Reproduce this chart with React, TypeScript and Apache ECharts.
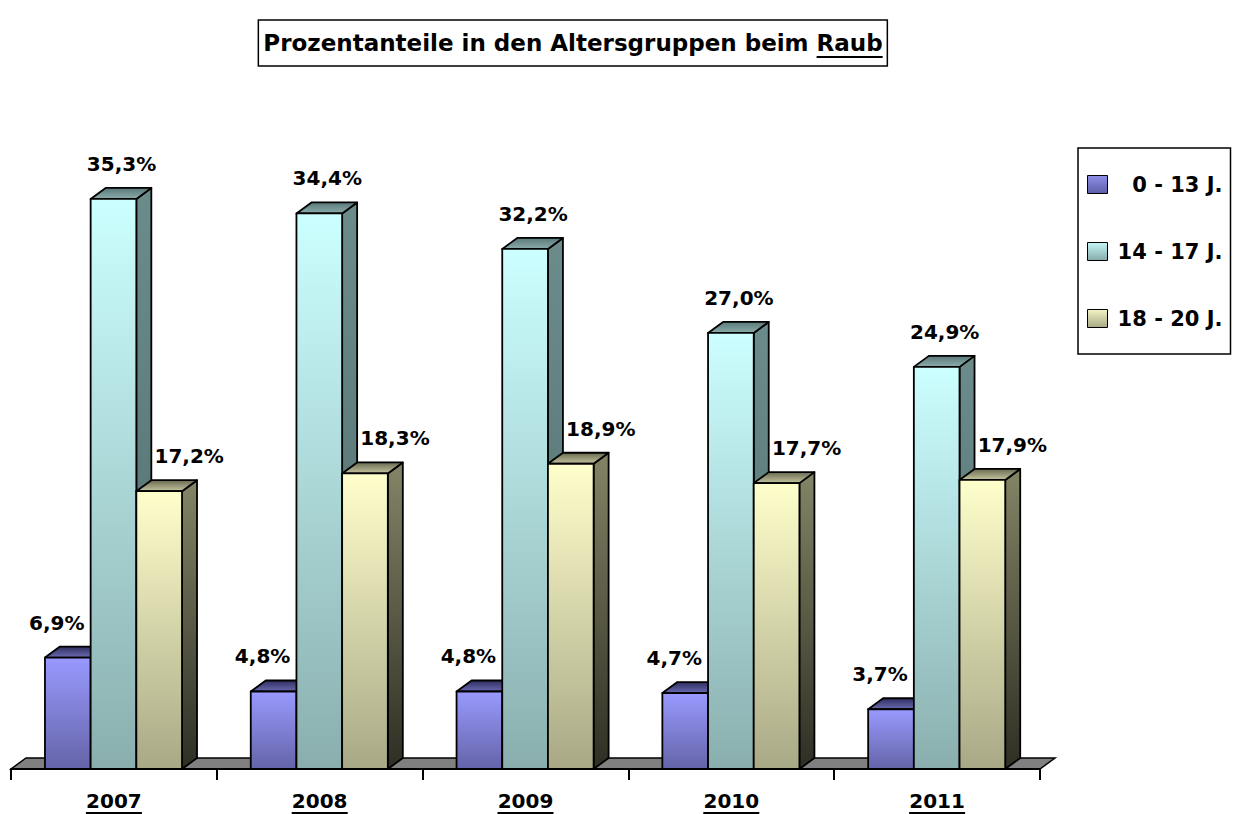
import React, { useEffect, useRef } from 'react';
import * as echarts from 'echarts';

const years = ['2007', '2008', '2009', '2010', '2011'];
const seriesNames = ['0 - 13 J.', '14 - 17 J.', '18 - 20 J.'];
const age0to13 = [6.9, 4.8, 4.8, 4.7, 3.7];
const age14to17 = [35.3, 34.4, 32.2, 27.0, 24.9];
const age18to20 = [17.2, 18.3, 18.9, 17.7, 17.9];
const titleMain = 'Prozentanteile in den Altersgruppen beim ';
const titleUnderlined = 'Raub';

const FONT = '"DejaVu Sans", "Liberation Sans", Arial, sans-serif';
const BAR_FRAC = 0.222;
const GROUP_OFFSET = 0.165;
const DX = 15;
const DY = 11;
const LABEL_DX = [-11, 8, 30];
const LABEL_DY = 35;

const palettes = [
  { front: ['#9999FF', '#6464A8'], top: ['#2E2E60', '#6A6AB0'], side: ['#40407A', '#262650'], legend: ['#8E8EEA', '#5E5EA6'] },
  { front: ['#CCFFFF', '#8AAEAE'], top: ['#5A7878', '#8CACAC'], side: ['#6C8C8C', '#4E6A6A'], legend: ['#C4F6F6', '#86AAAA'] },
  { front: ['#FFFFCC', '#A8A886'], top: ['#6A6A50', '#C4C4A0'], side: ['#848466', '#2E2E24'], legend: ['#F4F4C4', '#A8A886'] },
];

const grad = (c: string[]) =>
  new echarts.graphic.LinearGradient(0, 0, 0, 1, [
    { offset: 0, color: c[0] },
    { offset: 1, color: c[1] },
  ]);

const fmt = (v: number) => v.toFixed(1).replace('.', ',') + '%';

function makeRender(si: number) {
  return (params: any, api: any) => {
    const cat = api.value(0);
    const val = api.value(1);
    const base = api.coord([cat, 0]);
    const topP = api.coord([cat, val]);
    const band = api.size([1, 0])[0];
    const bw = band * BAR_FRAC;
    const x0 = base[0] - band / 2 + band * GROUP_OFFSET + si * bw;
    const x1 = x0 + bw;
    const yb = base[1];
    const yt = topP[1];
    const p = palettes[si];
    const stroke = { stroke: '#000', lineWidth: 1.8, lineJoin: 'round' };
    const children: any[] = [
      {
        type: 'polygon',
        shape: { points: [[x1, yt], [x1 + DX, yt - DY], [x1 + DX, yb - DY], [x1, yb]] },
        style: { fill: grad(p.side), ...stroke },
      },
      {
        type: 'polygon',
        shape: { points: [[x0, yt], [x0 + DX, yt - DY], [x1 + DX, yt - DY], [x1, yt]] },
        style: { fill: grad(p.top), ...stroke },
      },
      {
        type: 'rect',
        shape: { x: x0, y: yt, width: bw, height: yb - yt },
        style: { fill: grad(p.front), ...stroke },
      },
      {
        type: 'text',
        x: x0 + bw / 2 + LABEL_DX[si],
        y: yt - LABEL_DY,
        style: {
          text: fmt(val),
          fill: '#000',
          fontSize: 20,
          fontWeight: 'bold',
          fontFamily: FONT,
          align: 'center',
          verticalAlign: 'middle',
          textAlign: 'center',
          textVerticalAlign: 'middle',
        },
      },
    ];
    if (si === 0) {
      children.push({
        type: 'line',
        shape: { x1: base[0] - 28, y1: yb + 44, x2: base[0] + 28, y2: yb + 44 },
        style: { stroke: '#000', lineWidth: 2 },
      });
    }
    return { type: 'group', children };
  };
}

function floorRender(params: any, api: any) {
  const cs = params.coordSys;
  const yb = cs.y + cs.height;
  const xl = cs.x;
  const xr = cs.x + cs.width;
  return {
    type: 'polygon',
    shape: { points: [[xl, yb], [xr, yb], [xr + DX, yb - DY], [xl + DX, yb - DY]] },
    style: { fill: '#808080', stroke: '#000', lineWidth: 1.5 },
  };
}

export default function App() {
  const ref = useRef<HTMLDivElement>(null);
  useEffect(() => {
    document.body.style.margin = '0';
    if (!ref.current) return;
    const chart = echarts.init(ref.current, undefined, { renderer: 'svg' });

    const titleFontSize = 23;
    const canvas = document.createElement('canvas');
    const ctx = canvas.getContext('2d')!;
    ctx.font = `bold ${titleFontSize}px ${FONT}`;
    const fullW = ctx.measureText(titleMain + titleUnderlined).width;
    const rW = ctx.measureText(titleUnderlined).width;
    const boxL = 258;
    const boxW = 630;
    const hpad = Math.max(4, (boxW - fullW) / 2);
    const textL = boxL + hpad;

    const allSeries = [age0to13, age14to17, age18to20];

    chart.setOption({
      animation: false,
      backgroundColor: '#fff',
      title: {
        text: titleMain + titleUnderlined,
        left: boxL,
        top: 20,
        padding: [10, hpad],
        borderColor: '#000',
        borderWidth: 1.5,
        backgroundColor: '#fff',
        textStyle: {
          fontSize: titleFontSize,
          fontWeight: 'bold',
          fontFamily: FONT,
          color: '#000',
          lineHeight: 26,
        },
      },
      legend: {
        orient: 'vertical',
        left: 1078,
        top: 148,
        padding: [26, 8, 25, 9],
        itemGap: 46,
        itemWidth: 20,
        itemHeight: 18,
        borderColor: '#000',
        borderWidth: 1.5,
        backgroundColor: '#fff',
        icon: 'rect',
        selectedMode: false,
        formatter: (name: string) => `{r|${name}}`,
        textStyle: {
          rich: {
            r: {
              width: 110,
              align: 'right',
              fontSize: 21,
              fontWeight: 'bold',
              fontFamily: FONT,
              color: '#000',
              lineHeight: 22,
            },
          },
        },
        data: seriesNames.map((n, i) => ({
          name: n,
          itemStyle: { color: grad(palettes[i].legend), borderColor: '#000', borderWidth: 1 },
        })),
      },
      grid: { left: 11, right: 194, top: 123, bottom: 45, containLabel: false },
      xAxis: {
        type: 'category',
        data: years,
        z: 5,
        axisLine: { show: true, lineStyle: { color: '#000', width: 2 } },
        axisTick: { show: true, length: 11, lineStyle: { color: '#000', width: 2 } },
        axisLabel: {
          margin: 22,
          fontSize: 20,
          fontWeight: 'bold',
          fontFamily: FONT,
          color: '#000',
        },
        splitLine: { show: false },
      },
      yAxis: { type: 'value', min: 0, max: 40, show: false },
      graphic: [
        {
          type: 'line',
          shape: { x1: textL + fullW - rW, y1: 57, x2: textL + fullW, y2: 57 },
          style: { stroke: '#000', lineWidth: 2 },
          z: 10,
        },
      ],
      series: [
        {
          type: 'custom',
          name: 'floor',
          silent: true,
          clip: false,
          data: [[0, 0]],
          encode: { x: 0, y: 1 },
          renderItem: floorRender,
          z: 1,
        },
        ...allSeries.map((vals, si) => ({
          type: 'custom',
          name: seriesNames[si],
          clip: false,
          data: vals.map((v, i) => [i, v]),
          encode: { x: 0, y: 1 },
          itemStyle: { color: grad(palettes[si].legend) },
          renderItem: makeRender(si),
          z: 2,
        })),
      ],
    });
    return () => chart.dispose();
  }, []);
  return <div ref={ref} style={{ width: 1234, height: 814 }} />;
}
